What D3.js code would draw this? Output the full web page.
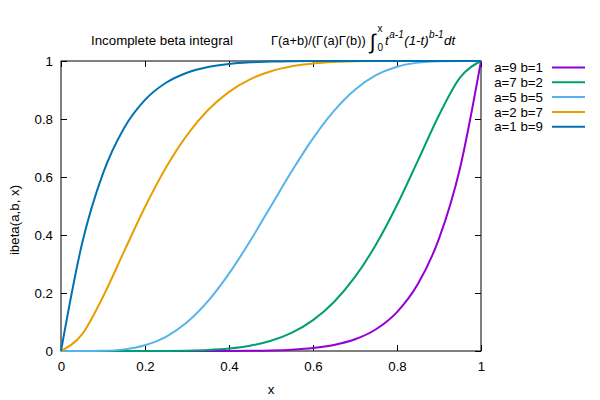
<!DOCTYPE html>
<html>
<head>
<meta charset="utf-8">
<script src="https://cdn.jsdelivr.net/npm/d3@7"></script>
<style>
  html, body { margin: 0; padding: 0; background: #fff; }
  svg { display: block; }
  text { font-family: "Liberation Sans", Arial, sans-serif; fill: #000; }
</style>
</head>
<body>
<svg id="chart" width="600" height="400"></svg>
<script>
// ---- data ----
const xValues = [0, 0.05, 0.1, 0.15, 0.2, 0.25, 0.3, 0.35, 0.4, 0.45, 0.5,
                 0.55, 0.6, 0.65, 0.7, 0.75, 0.8, 0.85, 0.9, 0.95, 1];
const seriesNames = ["a=9 b=1", "a=7 b=2", "a=5 b=5", "a=2 b=7", "a=1 b=9"];
const seriesColors = ["#9400d3", "#009e73", "#56b4e9", "#e69f00", "#0072b2"];
const a9b1 = [0, 0, 0, 0, 0.0000005, 0.0000038, 0.0000197, 0.0000788, 0.000262, 0.000757, 0.001953,
              0.004605, 0.010078, 0.020712, 0.040354, 0.075085, 0.134218, 0.231617, 0.387420, 0.630249, 1];
const a7b2 = [0, 0, 0.0000007, 0.0000119, 0.0000845, 0.000382, 0.001290, 0.003571, 0.008520, 0.018123, 0.035156,
              0.063180, 0.106376, 0.169126, 0.255298, 0.367081, 0.503317, 0.657183, 0.813105, 0.942755, 1];
const a5b5 = [0, 0.0000332, 0.000891, 0.005629, 0.019581, 0.048927, 0.098809, 0.171718, 0.266568, 0.378580, 0.5,
              0.621420, 0.733432, 0.828282, 0.901191, 0.951073, 0.980419, 0.994371, 0.999109, 0.999967, 1];
const a2b7 = [0, 0.057245, 0.186895, 0.342817, 0.496684, 0.632919, 0.744702, 0.830874, 0.893624, 0.936820, 0.964844,
              0.981877, 0.991480, 0.996429, 0.998710, 0.999619, 0.999916, 0.999988, 0.999999, 1, 1];
const a1b9 = [0, 0.369751, 0.612580, 0.768383, 0.865782, 0.924915, 0.959646, 0.979288, 0.989922, 0.995395, 0.998047,
              0.999243, 0.999738, 0.999921, 0.999980, 0.999996, 1, 1, 1, 1, 1];
const xTicks = [0, 0.2, 0.4, 0.6, 0.8, 1];
const yTicks = [0, 0.2, 0.4, 0.6, 0.8, 1];
const xTickLabels = ["0", "0.2", "0.4", "0.6", "0.8", "1"];
const yTickLabels = ["0", "0.2", "0.4", "0.6", "0.8", "1"];
const seriesValues = [a9b1, a7b2, a5b5, a2b7, a1b9];

// ---- layout ----
const FS = 13.3;
const plot = { left: 61, right: 481, top: 61, bottom: 351 };
const svg = d3.select("#chart");

const x = d3.scaleLinear().domain([0, 1]).range([plot.left, plot.right]);
const y = d3.scaleLinear().domain([0, 1]).range([plot.bottom, plot.top]);

function styleAxis(g, hideLabels) {
  g.select(".domain").remove();
  g.selectAll(".tick line").attr("stroke", "#000").attr("stroke-width", 1);
  g.selectAll(".tick text").attr("font-size", FS).attr("font-family", '"Liberation Sans", Arial, sans-serif').attr("fill", "#000");
  if (hideLabels) g.selectAll(".tick text").remove();
}

svg.append("g").attr("transform", `translate(0,${plot.bottom})`)
  .call(d3.axisBottom(x).tickValues(xTicks).tickFormat((d, i) => xTickLabels[i]).tickSize(-6).tickPadding(11))
  .call(g => styleAxis(g, false));
svg.append("g").attr("transform", `translate(0,${plot.top})`)
  .call(d3.axisTop(x).tickValues(xTicks).tickSize(-6))
  .call(g => styleAxis(g, true));
svg.append("g").attr("transform", `translate(${plot.left},0)`)
  .call(d3.axisLeft(y).tickValues(yTicks).tickFormat((d, i) => yTickLabels[i]).tickSize(-6).tickPadding(8))
  .call(g => styleAxis(g, false));
svg.append("g").attr("transform", `translate(${plot.right},0)`)
  .call(d3.axisRight(y).tickValues(yTicks).tickSize(-6))
  .call(g => styleAxis(g, true));

// border
svg.append("rect")
  .attr("x", plot.left).attr("y", plot.top)
  .attr("width", plot.right - plot.left).attr("height", plot.bottom - plot.top)
  .attr("fill", "none").attr("stroke", "#000").attr("stroke-width", 1);

// curves
const line = d3.line().x((d, i) => x(xValues[i])).y(d => y(d)).curve(d3.curveMonotoneX);
seriesValues.forEach((vals, k) => {
  svg.append("path").datum(vals)
    .attr("d", line)
    .attr("fill", "none")
    .attr("stroke", seriesColors[k])
    .attr("stroke-width", 2)
    .attr("stroke-linejoin", "round");
});

// legend
seriesNames.forEach((name, k) => {
  const ly = 67.5 + k * 14.8;
  svg.append("text").attr("x", 543).attr("y", ly).attr("dy", "0.35em")
    .attr("text-anchor", "end").attr("font-size", FS).text(name);
  svg.append("line").attr("x1", 552).attr("x2", 585).attr("y1", ly).attr("y2", ly)
    .attr("stroke", seriesColors[k]).attr("stroke-width", 2);
});

// axis titles
svg.append("text").attr("x", 271).attr("y", 394).attr("text-anchor", "middle")
  .attr("font-size", FS).text("x");
svg.append("text").attr("transform", "translate(19,220) rotate(-90)")
  .attr("text-anchor", "middle").attr("font-size", FS).text("ibeta(a,b, x)");

// title
svg.append("text").attr("x", 91).attr("y", 45).attr("font-size", FS).text("Incomplete beta integral");

const pieces = [
  { t: "Γ(a+b)/(Γ(a)Γ(b))", fs: 12.8, it: false, y: 45, gap: 4 },
  { t: "∫", fs: 21, it: false, y: 49, gap: 2 },
  { stack: [{ t: "x", fs: 10, y: 32 }, { t: "0", fs: 10, y: 51 }], gap: 2 },
  { t: "t", fs: FS, it: true, y: 45, gap: 0.5 },
  { t: "a-1", fs: 10, it: true, y: 38, gap: 0.5 },
  { t: "(1-t)", fs: FS, it: true, y: 45, gap: 0.5 },
  { t: "b-1", fs: 10, it: true, y: 38, gap: 0.5 },
  { t: "dt", fs: FS, it: true, y: 45, gap: 0 }
];
let cx = 271;
pieces.forEach(p => {
  if (p.stack) {
    let w = 0;
    p.stack.forEach(s => {
      const el = svg.append("text").attr("x", cx).attr("y", s.y).attr("font-size", s.fs).text(s.t);
      w = Math.max(w, el.node().getComputedTextLength());
    });
    cx += w + p.gap;
  } else {
    const el = svg.append("text").attr("x", cx).attr("y", p.y).attr("font-size", p.fs)
      .attr("font-style", p.it ? "italic" : "normal").text(p.t);
    cx += el.node().getComputedTextLength() + p.gap;
  }
});
</script>
</body>
</html>
